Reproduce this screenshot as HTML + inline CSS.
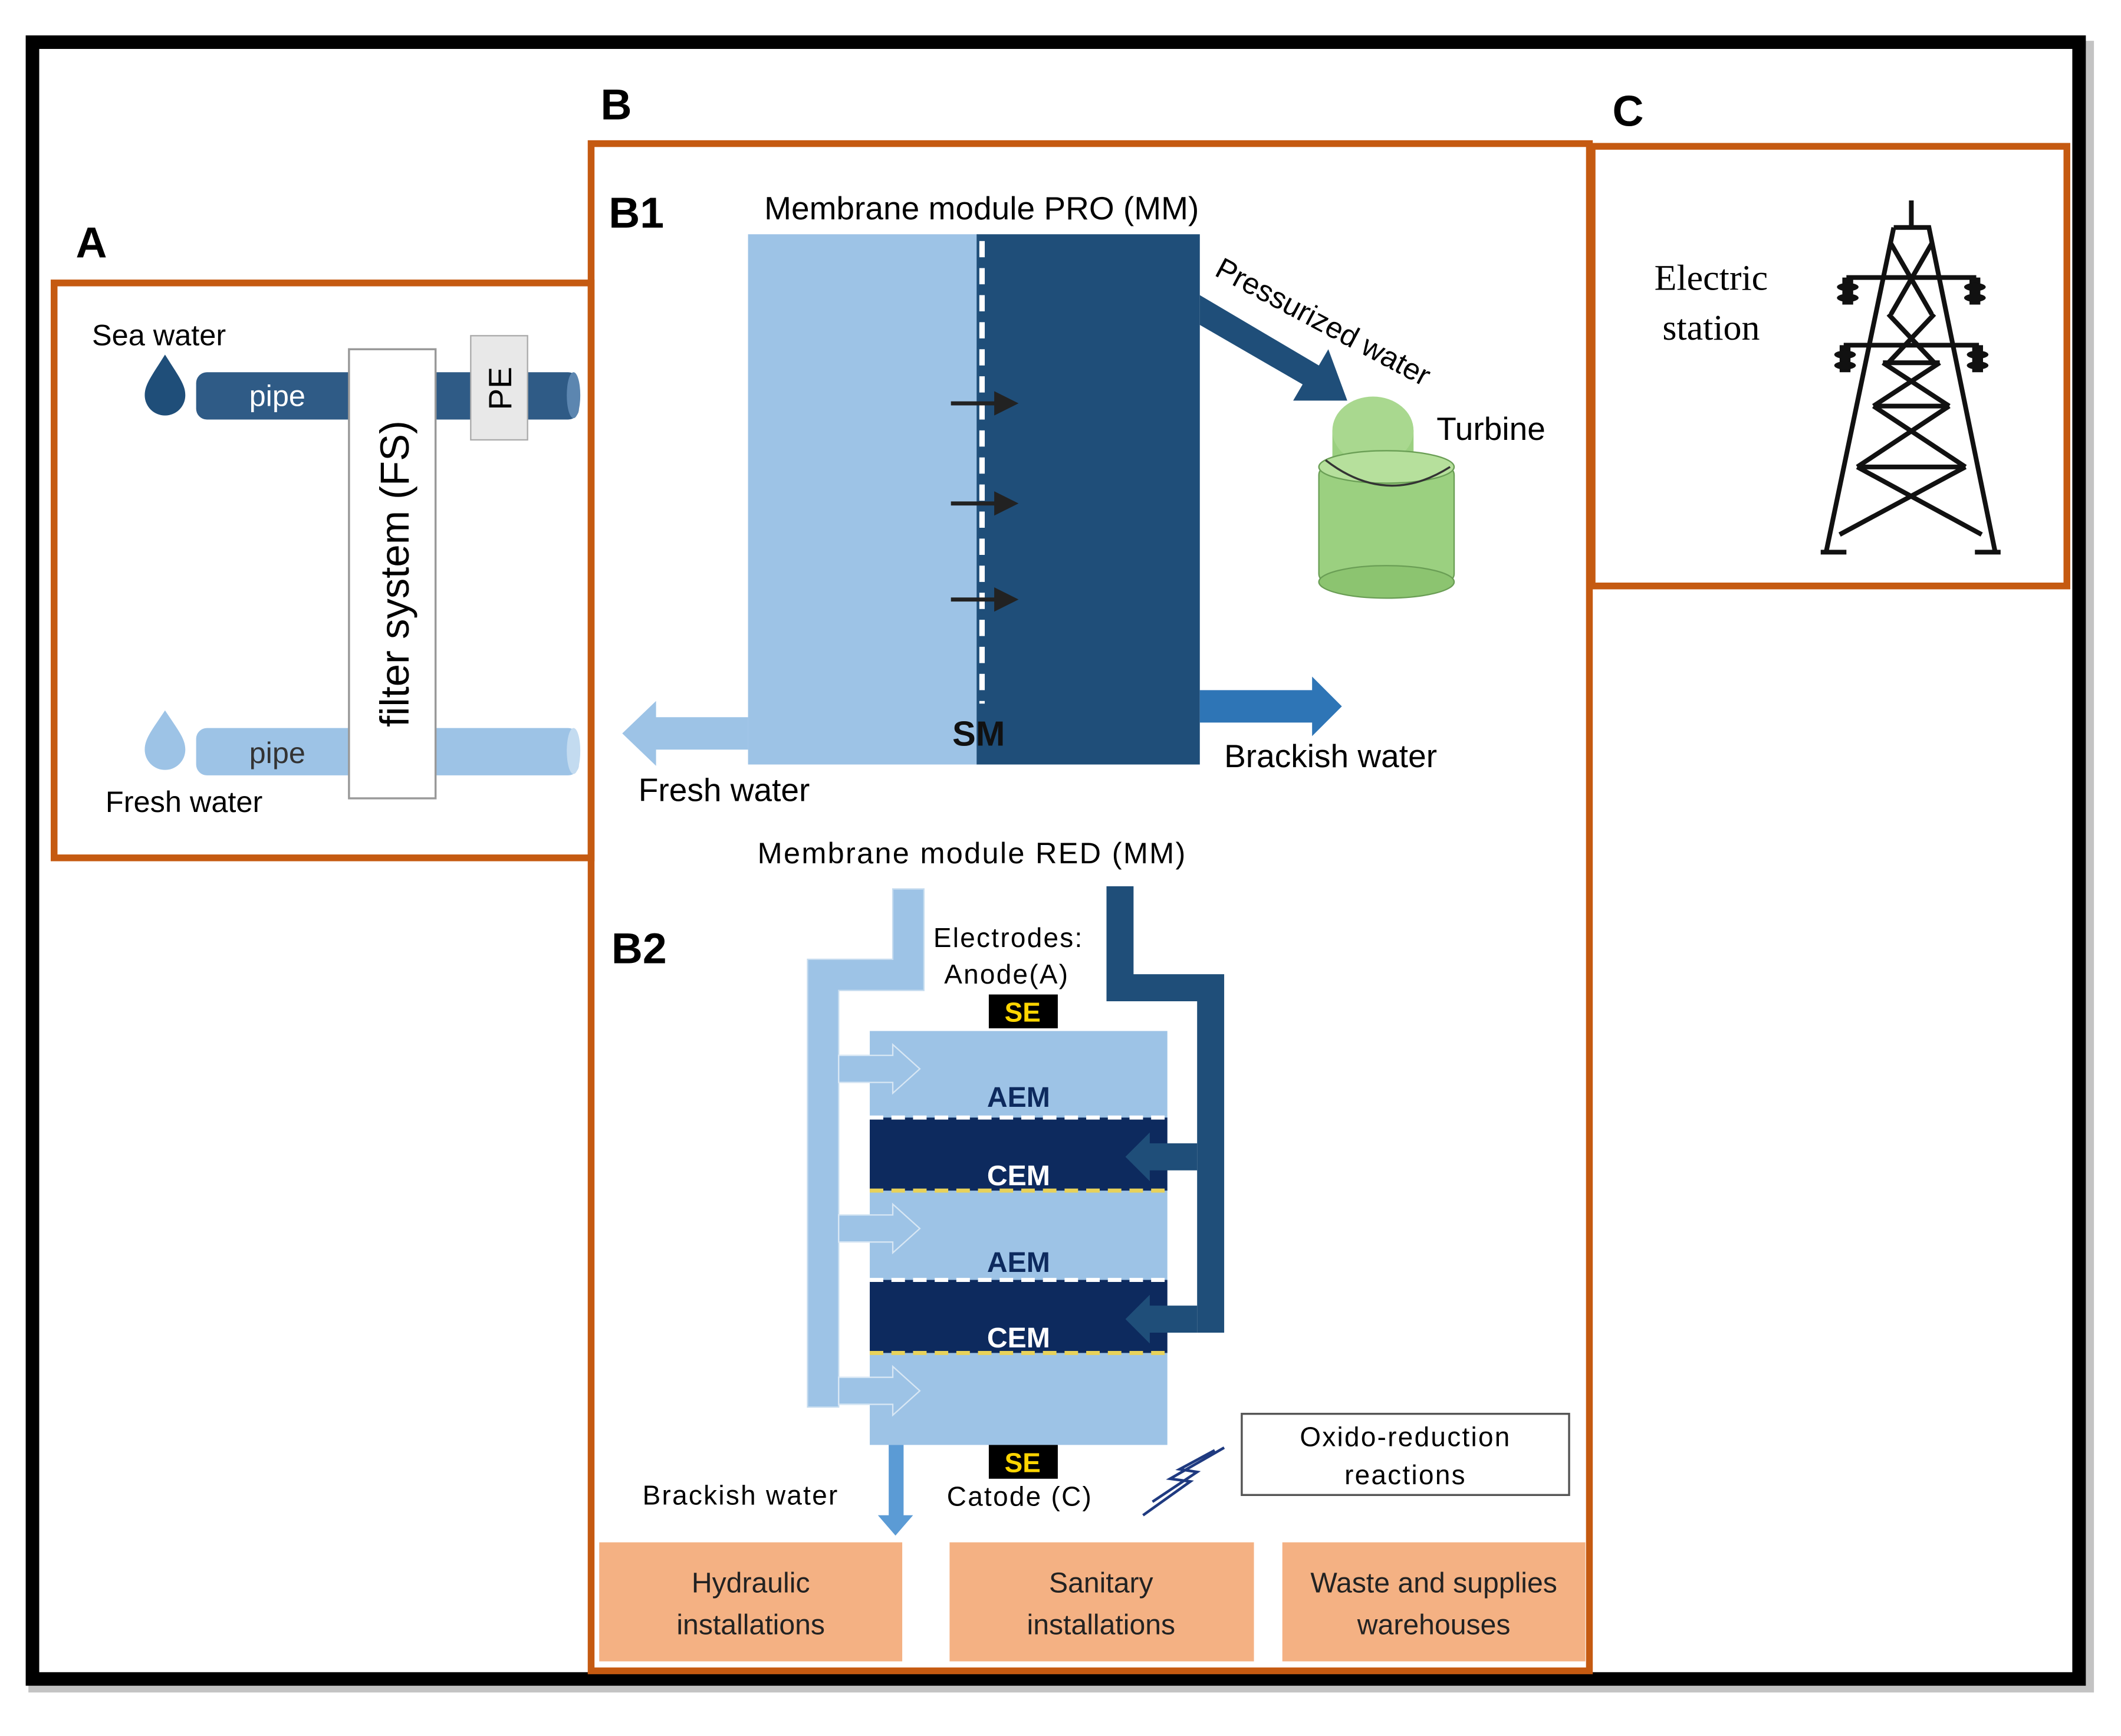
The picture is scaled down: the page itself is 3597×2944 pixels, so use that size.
<!DOCTYPE html>
<html><head><meta charset="utf-8">
<style>
html,body{margin:0;padding:0;background:#fff;}
svg{display:block}
text{font-family:"Liberation Sans",sans-serif;}
</style></head>
<body>
<svg width="3597" height="2944" viewBox="0 0 1568 1283" xmlns="http://www.w3.org/2000/svg">
<defs>
<marker id="ah" markerWidth="6" markerHeight="6" refX="5" refY="3" orient="auto"><path d="M0,0 L6,3 L0,6 z" fill="#222"/></marker>
</defs>
<rect width="1568" height="1283" fill="#fff"/>
<!-- outer frame -->
<rect x="24" y="33" width="1521" height="1215" fill="none" stroke="#888" stroke-width="6" opacity="0.5"/>
<rect x="24" y="31" width="1513" height="1210" fill="none" stroke="#000" stroke-width="10"/>

<!-- labels -->
<text x="56" y="190" font-size="32" font-weight="bold">A</text>
<text x="444" y="88" font-size="32" font-weight="bold">B</text>
<text x="1192" y="93" font-size="32" font-weight="bold">C</text>

<!-- Panel A -->
<rect x="40" y="209" width="397" height="425" fill="none" stroke="#c55a11" stroke-width="5"/>
<text x="68" y="255" font-size="22">Sea water</text>
<path d="M122,262 C112,278 107,284 107,292 A15,15 0 0 0 137,292 C137,284 132,278 122,262z" fill="#1f4e79"/>
<rect x="145" y="275" width="283" height="35" rx="8" fill="#2f5b86"/>
<ellipse cx="424" cy="292" rx="5" ry="17" fill="#5c86b0"/>
<text x="205" y="300" font-size="22" fill="#fff" text-anchor="middle">pipe</text>
<path d="M122,525 C112,540 107,546 107,554 A15,15 0 0 0 137,554 C137,546 132,540 122,525z" fill="#9dc3e6"/>
<rect x="145" y="538" width="283" height="35" rx="8" fill="#9dc3e6"/>
<ellipse cx="424" cy="555" rx="5" ry="17" fill="#c3dbf0"/>
<text x="205" y="564" font-size="22" fill="#333" text-anchor="middle">pipe</text>
<rect x="258" y="258" width="64" height="332" fill="#fff" stroke="#999" stroke-width="1.5"/>
<text transform="translate(302,424) rotate(-90)" font-size="30" text-anchor="middle">filter system (FS)</text>
<rect x="348" y="248" width="42" height="77" fill="#e8e8e8" stroke="#aaa"/>
<text transform="translate(378,287) rotate(-90)" font-size="24" text-anchor="middle">PE</text>
<text x="78" y="600" font-size="22">Fresh water</text>

<!-- Panel B -->
<rect x="437" y="106" width="738" height="1129" fill="none" stroke="#c55a11" stroke-width="5"/>
<text x="450" y="168" font-size="32" font-weight="bold">B1</text>
<text x="565" y="162" font-size="24">Membrane module PRO (MM)</text>
<rect x="553" y="173" width="170" height="392" fill="#9dc3e6"/>
<rect x="722" y="173" width="165" height="392" fill="#1f4e79"/>
<line x1="726" y1="178" x2="726" y2="520" stroke="#fff" stroke-width="4" stroke-dasharray="12,8"/>
<g stroke="#222" stroke-width="3" marker-end="url(#ah)">
<line x1="703" y1="298" x2="750" y2="298"/><line x1="703" y1="372" x2="750" y2="372"/><line x1="703" y1="443" x2="750" y2="443"/>
</g>
<text x="704" y="551" font-size="26" font-weight="bold" fill="#111">SM</text>
<polygon points="887,218 975,270 982,258 996,296 956,296 963,284 887,240" fill="#1f4e79"/>
<text transform="translate(897,203) rotate(28)" font-size="22">Pressurized water</text>
<!-- turbine -->
<rect x="985" y="318" width="60" height="30" fill="#9bd080"/>
<ellipse cx="1015" cy="318" rx="30" ry="25" fill="#a9d88f"/>
<rect x="975" y="345" width="100" height="85" rx="6" fill="#9bd080" stroke="#6a9e55"/>
<ellipse cx="1025" cy="345" rx="50" ry="12" fill="#b6e09c" stroke="#6a9e55"/>
<ellipse cx="1025" cy="430" rx="50" ry="12" fill="#8cc470" stroke="#6a9e55"/>
<path d="M980,340 Q1025,375 1072,345" fill="none" stroke="#333" stroke-width="1.5"/>
<text x="1062" y="325" font-size="24">Turbine</text>
<polygon points="887,510 970,510 970,500 992,522 970,544 970,534 887,534" fill="#2e75b6"/>
<text x="905" y="567" font-size="24">Brackish water</text>
<polygon points="553,530 485,530 485,518 460,542 485,566 485,554 553,554" fill="#9dc3e6"/>
<text x="472" y="592" font-size="24">Fresh water</text>

<text x="452" y="712" font-size="32" font-weight="bold">B2</text>
<text x="560" y="638" font-size="22" letter-spacing="1">Membrane module RED (MM)</text>
<!-- light pipes -->
<path d="M660,657 h23 v75 h-63 v308 h-23 v-331 h63z" fill="#9dc3e6" stroke="#c6dcef"/>
<g fill="#9dc3e6" stroke="#d8e7f4">
<polygon points="620,780 660,780 660,772 680,790 660,808 660,800 620,800"/>
<polygon points="620,898 660,898 660,890 680,908 660,926 660,918 620,918"/>
<polygon points="620,1018 660,1018 660,1010 680,1028 660,1046 660,1038 620,1038"/>
</g>
<rect x="643" y="762" width="220" height="306" fill="#9dc3e6"/>
<polygon points="620,780 660,780 660,772 680,790 660,808 660,800 620,800" fill="none" stroke="#d8e7f4"/>
<polygon points="620,898 660,898 660,890 680,908 660,926 660,918 620,918" fill="none" stroke="#d8e7f4"/>
<polygon points="620,1018 660,1018 660,1010 680,1028 660,1046 660,1038 620,1038" fill="none" stroke="#d8e7f4"/>
<rect x="643" y="826" width="220" height="54" fill="#0d2a5e"/>
<rect x="643" y="946" width="220" height="54" fill="#0d2a5e"/>
<g stroke-width="3" stroke-dasharray="10,6">
<line x1="643" y1="826" x2="863" y2="826" stroke="#fff"/>
<line x1="643" y1="880" x2="863" y2="880" stroke="#e8d25a"/>
<line x1="643" y1="946" x2="863" y2="946" stroke="#fff"/>
<line x1="643" y1="1000" x2="863" y2="1000" stroke="#e8d25a"/>
</g>
<g font-size="21" font-weight="bold" text-anchor="middle">
<text x="753" y="818" fill="#0d2a5e">AEM</text>
<text x="753" y="876" fill="#fff">CEM</text>
<text x="753" y="940" fill="#0d2a5e">AEM</text>
<text x="753" y="996" fill="#fff">CEM</text>
</g>
<!-- dark pipe -->
<path d="M818,655 h20 v65 h67 v265 h-20 v-245 h-67z" fill="#1f4e79"/>
<polygon points="885,845 850,845 850,837 832,855 850,873 850,865 885,865" fill="#1f4e79"/>
<polygon points="885,965 850,965 850,957 832,975 850,993 850,985 885,985" fill="#1f4e79"/>
<text x="690" y="700" font-size="20" letter-spacing="1">Electrodes:</text>
<text x="698" y="727" font-size="20" letter-spacing="1">Anode(A)</text>
<rect x="731" y="735" width="51" height="25" fill="#000"/>
<text x="756" y="755" font-size="20" font-weight="bold" fill="#ffd500" text-anchor="middle">SE</text>
<rect x="731" y="1068" width="51" height="25" fill="#000"/>
<text x="756" y="1088" font-size="20" font-weight="bold" fill="#ffd500" text-anchor="middle">SE</text>
<polygon points="657,1068 668,1068 668,1120 675,1120 662,1135 649,1120 657,1120" fill="#5b9bd5"/>
<text x="475" y="1112" font-size="20" letter-spacing="1">Brackish water</text>
<text x="700" y="1113" font-size="20" letter-spacing="1">Catode (C)</text>
<path d="M845,1120 L880,1095 L865,1093 L905,1070 M852,1110 L885,1088 L872,1086 L898,1072" fill="none" stroke="#1f3a80" stroke-width="2"/>
<rect x="918" y="1045" width="242" height="60" fill="#fff" stroke="#555" stroke-width="1.5"/>
<text x="1039" y="1069" font-size="20" text-anchor="middle" letter-spacing="1">Oxido-reduction</text>
<text x="1039" y="1097" font-size="20" text-anchor="middle" letter-spacing="1">reactions</text>

<rect x="443" y="1140" width="224" height="88" fill="#f4b183"/>
<rect x="702" y="1140" width="225" height="88" fill="#f4b183"/>
<rect x="948" y="1140" width="224" height="88" fill="#f4b183"/>
<g font-size="21" text-anchor="middle" fill="#222">
<text x="555" y="1177">Hydraulic</text><text x="555" y="1208">installations</text>
<text x="814" y="1177">Sanitary</text><text x="814" y="1208">installations</text>
<text x="1060" y="1177">Waste and supplies</text><text x="1060" y="1208">warehouses</text>
</g>

<!-- Panel C -->
<rect x="1177" y="108" width="351" height="325" fill="none" stroke="#c55a11" stroke-width="5"/>
<text x="1265" y="214" font-size="27" text-anchor="middle" font-family="Liberation Serif, serif" style="font-family:'Liberation Serif',serif">Electric</text>
<text x="1265" y="251" font-size="27" text-anchor="middle" style="font-family:'Liberation Serif',serif">station</text>
<g stroke="#111" stroke-width="3.5" fill="none">
<line x1="1413" y1="148" x2="1413" y2="168"/>
<path d="M1400,168 L1426,168 L1475,408 M1400,168 L1350,408"/>
<line x1="1346" y1="408" x2="1365" y2="408"/><line x1="1460" y1="408" x2="1479" y2="408"/>
<line x1="1365" y1="205" x2="1461" y2="205"/>
<line x1="1363" y1="255" x2="1463" y2="255"/>
<line x1="1392" y1="268" x2="1434" y2="268"/>
<line x1="1385" y1="300" x2="1441" y2="300"/>
<line x1="1373" y1="345" x2="1453" y2="345"/>
<path d="M1398,180 L1428,232 M1428,180 L1398,232 M1396,232 L1430,268 M1430,232 L1396,268 M1392,268 L1441,300 M1434,268 L1385,300 M1385,300 L1453,345 M1441,300 L1373,345 M1373,345 L1465,395 M1453,345 L1360,395"/>
</g>
<g fill="#111">
<rect x="1362" y="205" width="8" height="20"/><rect x="1456" y="205" width="8" height="20"/>
<rect x="1360" y="255" width="8" height="20"/><rect x="1458" y="255" width="8" height="20"/>
<ellipse cx="1366" cy="212" rx="8" ry="3"/><ellipse cx="1366" cy="220" rx="8" ry="3"/>
<ellipse cx="1460" cy="212" rx="8" ry="3"/><ellipse cx="1460" cy="220" rx="8" ry="3"/>
<ellipse cx="1364" cy="262" rx="8" ry="3"/><ellipse cx="1364" cy="270" rx="8" ry="3"/>
<ellipse cx="1462" cy="262" rx="8" ry="3"/><ellipse cx="1462" cy="270" rx="8" ry="3"/>
</g>
</svg>
</body></html>
